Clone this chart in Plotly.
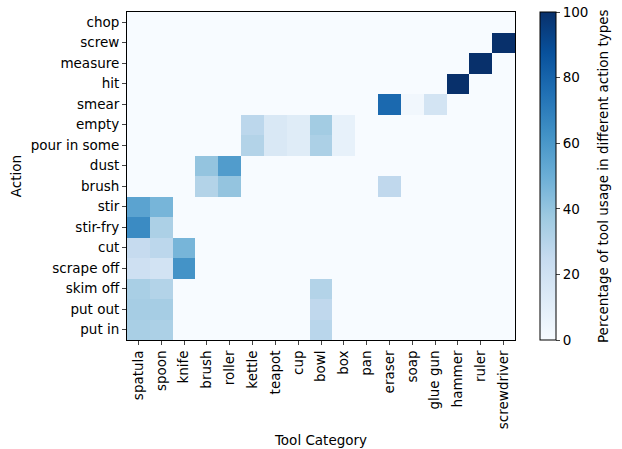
import plotly.graph_objects as go

tools = ["spatula", "spoon", "knife", "brush", "roller", "kettle", "teapot", "cup",
         "bowl", "box", "pan", "eraser", "soap", "glue gun", "hammer", "ruler", "screwdriver"]

# actions listed bottom to top
actions = ["put in", "put out", "skim off", "scrape off", "cut", "stir-fry", "stir",
           "brush", "dust", "pour in some", "empty", "smear", "hit", "measure", "screw", "chop"]

# percentage of tool usage per action (rows follow `actions`, columns follow `tools`)
put_in       = [34, 33, 0, 0, 0, 0, 0, 0, 29, 0, 0, 0, 0, 0, 0, 0, 0]
put_out      = [35, 35, 0, 0, 0, 0, 0, 0, 27, 0, 0, 0, 0, 0, 0, 0, 0]
skim_off     = [34, 31, 0, 0, 0, 0, 0, 0, 31, 0, 0, 0, 0, 0, 0, 0, 0]
scrape_off   = [21, 19, 62, 0, 0, 0, 0, 0, 0, 0, 0, 0, 0, 0, 0, 0, 0]
cut          = [25, 28, 47, 0, 0, 0, 0, 0, 0, 0, 0, 0, 0, 0, 0, 0, 0]
stir_fry     = [65, 33, 0, 0, 0, 0, 0, 0, 0, 0, 0, 0, 0, 0, 0, 0, 0]
stir         = [55, 47, 0, 0, 0, 0, 0, 0, 0, 0, 0, 0, 0, 0, 0, 0, 0]
brush_row    = [0, 0, 0, 31, 40, 0, 0, 0, 0, 0, 0, 27, 0, 0, 0, 0, 0]
dust         = [0, 0, 0, 40, 58, 0, 0, 0, 0, 0, 0, 0, 0, 0, 0, 0, 0]
pour_in_some = [0, 0, 0, 0, 0, 31, 15, 12, 33, 8, 0, 0, 0, 0, 0, 0, 0]
empty        = [0, 0, 0, 0, 0, 28, 15, 12, 36, 8, 0, 0, 0, 0, 0, 0, 0]
smear        = [0, 0, 0, 0, 0, 0, 0, 0, 0, 0, 0, 78, 3, 18, 0, 0, 0]
hit          = [0, 0, 0, 0, 0, 0, 0, 0, 0, 0, 0, 0, 0, 0, 100, 0, 0]
measure      = [0, 0, 0, 0, 0, 0, 0, 0, 0, 0, 0, 0, 0, 0, 0, 100, 0]
screw        = [0, 0, 0, 0, 0, 0, 0, 0, 0, 0, 0, 0, 0, 0, 0, 0, 100]
chop         = [0, 0, 0, 0, 0, 0, 0, 0, 0, 0, 0, 0, 0, 0, 0, 0, 0]

z = [put_in, put_out, skim_off, scrape_off, cut, stir_fry, stir, brush_row, dust,
     pour_in_some, empty, smear, hit, measure, screw, chop]

blues = [
    [0.0, "#f7fbff"], [0.125, "#deebf7"], [0.25, "#c6dbef"], [0.375, "#9ecae1"],
    [0.5, "#6baed6"], [0.625, "#4292c6"], [0.75, "#2171b5"], [0.875, "#08519c"],
    [1.0, "#08306b"],
]

font = dict(family="DejaVu Sans", size=13.5, color="black")

fig = go.Figure(go.Heatmap(
    z=z, x=tools, y=actions, colorscale=blues, zmin=0, zmax=100,
    colorbar=dict(
        x=1.064, xanchor="left", y=0.5, yanchor="middle", len=1.0, lenmode="fraction",
        xpad=0, ypad=0, thickness=16, outlinecolor="black", outlinewidth=1,
        tickvals=[0, 20, 40, 60, 80, 100], ticks="outside", ticklen=4,
        tickfont=font,
    ),
))

# colour bar caption, rotated to read bottom-to-top
fig.add_annotation(
    text="Percentage of tool usage in different action types",
    xref="paper", yref="paper", x=1.227, y=0.5, xanchor="center", yanchor="middle",
    textangle=-90, showarrow=False, font=font,
)

fig.update_layout(
    width=622, height=449, margin=dict(l=127, r=107, t=12, b=109),
    paper_bgcolor="white", plot_bgcolor="white", font=font,
    xaxis=dict(title=dict(text="Tool Category", standoff=7, font=font), tickangle=-90,
               ticks="outside", ticklen=4, tickfont=font, automargin=False,
               showline=True, linecolor="black", mirror=True, linewidth=1,
               showgrid=False, zeroline=False),
    yaxis=dict(title=dict(text="Action", standoff=5, font=font), ticks="outside",
               ticklen=4, tickfont=font, automargin=False,
               showline=True, linecolor="black", mirror=True, linewidth=1,
               showgrid=False, zeroline=False),
)

fig.write_html("out.html")
